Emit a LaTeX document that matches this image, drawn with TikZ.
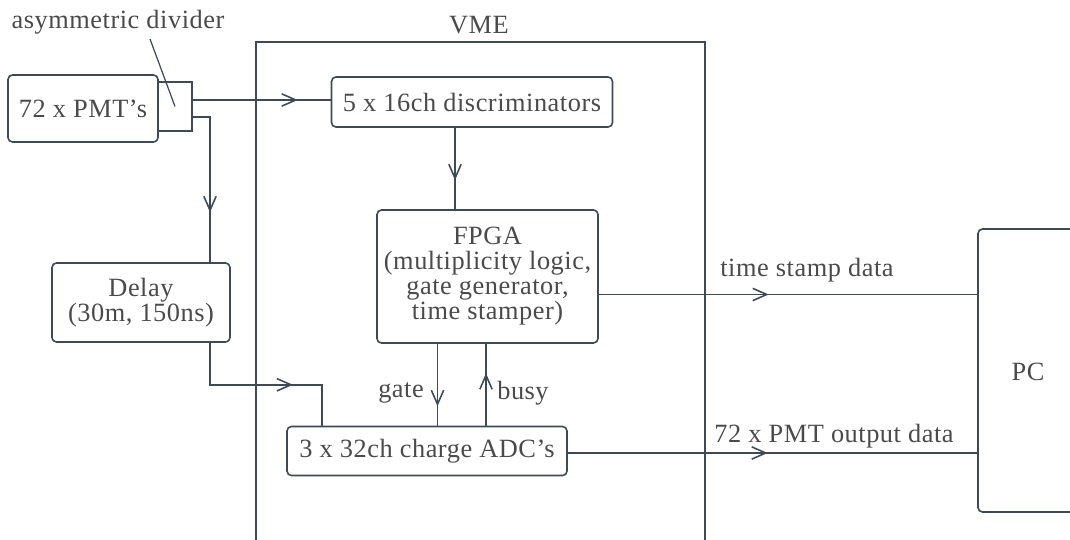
\documentclass[tikz,border=0pt]{standalone}
\usepackage{fontspec}
\setmainfont[LetterSpace=2]{Liberation Serif}
\usetikzlibrary{arrows.meta,decorations.markings}
\definecolor{ln}{HTML}{3E4A55}
\definecolor{tx}{HTML}{4A4A4A}
\tikzset{
  box/.style={draw=ln,line width=0.9pt,rounded corners=2.5pt,align=center,inner sep=0pt,text=tx,font=\fontsize{15}{14.2}\selectfont},
  lbl/.style={text=tx,font=\fontsize{15}{14.2}\selectfont,inner sep=0pt},
  wire/.style={draw=ln,line width=0.9pt},
  midarrow/.style={postaction={decorate},decoration={markings,mark=at position #1 with {\arrow{Straight Barb[length=8pt,width=7pt,line width=0.9pt]}}}}
}
\begin{document}
\begin{tikzpicture}[x=0.02cm,y=-0.02cm]
\useasboundingbox (0,0) rectangle (1070,540);
% VME crate
\draw[wire] (256,545) -- (256,42) -- (705,42) -- (705,545);
\node[lbl] (vme) at (479,25) {VME};
% nodes
\node[box,minimum width=3.0cm,minimum height=1.34cm] (pmt) at (83,108.5) {72 x PMT's};
\node[box,rounded corners=0pt,minimum width=0.68cm,minimum height=0.98cm] (div) at (175,106.5) {};
\node[lbl] (divl) at (118,22) {asymmetric divider};
\node[box,minimum width=5.62cm,minimum height=1.0cm] (disc) at (472,102) {5 x 16ch discriminators};
\node[box,minimum width=4.42cm,minimum height=2.66cm] (fpga) at (487.5,276.5) {FPGA\\(multiplicity logic,\\gate generator,\\time stamper)};
\node[box,minimum width=3.56cm,minimum height=1.58cm] (delay) at (141,302.5) {Delay\\(30m, 150ns)};
\node[box,minimum width=5.6cm,minimum height=0.98cm] (adc) at (427,451) {3 x 32ch charge ADC's};
\node[box,minimum width=2.04cm,minimum height=5.66cm] (pc) at (1029,370.5) {};
\node[lbl] (pcl) at (1028,372) {PC};
% leader for divider
\coordinate (lt) at (150,39);
\draw[wire,line width=0.7pt] (lt) -- (div.center);
% anchor points
\coordinate (d1) at ([yshift=0.13cm]div.east);
\coordinate (d2) at ([yshift=-0.21cm]div.east);
\coordinate (dl) at ([xshift=1.38cm]delay.south);
\coordinate (ds) at ([xshift=-0.34cm]disc.south);
\coordinate (fg) at ([xshift=-1.0cm]fpga.south);
\coordinate (ab) at ([xshift=1.18cm]adc.north);
\coordinate (fe) at ([yshift=-0.36cm]fpga.east);
\coordinate (ae) at ([yshift=-0.04cm]adc.east);
% connectors
\draw[wire,midarrow=2.1cm] (d1) -- (disc.west |- d1);
\draw[wire,midarrow=2.25cm] (d2) -| ([xshift=1.38cm]delay.north);
\draw[wire,midarrow=2.5cm] (dl) -- ++(0,42) -| ([xshift=-2.1cm]adc.north);
\draw[wire,midarrow=1.05cm] (ds) -- (ds |- fpga.north);
\draw[wire,midarrow=1.25cm] (fg) -- (fg |- adc.north);
\draw[wire,midarrow=1.05cm] (ab) -- (ab |- fpga.south);
\node[lbl] (gatel) at (401,393) {gate};
\node[lbl] (busyl) at (523,393) {busy};
\draw[wire,midarrow=3.4cm] (fe) -- (pc.west |- fe);
\draw[wire,midarrow=4.0cm] (ae) -- (pc.west |- ae);
\node[lbl] (tsl) at (807,270) {time stamp data};
\node[lbl] (pmtl) at (834,436) {72 x PMT output data};
\end{tikzpicture}
\end{document}
